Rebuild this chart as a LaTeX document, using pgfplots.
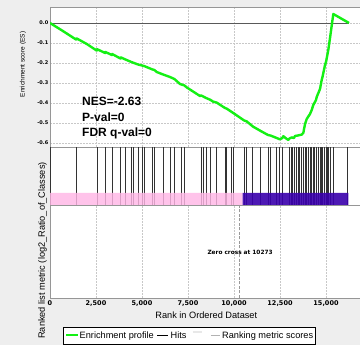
\documentclass[border=0pt]{standalone}
\usepackage{fontspec}
\setmainfont{Liberation Sans}
\newfontfamily\dvb{DejaVu Sans}
\usepackage{pgfplots}
\usepackage{pgfplotstable}
\pgfplotsset{compat=1.18}
\definecolor{bggray}{RGB}{238,238,238}
\definecolor{esgreen}{RGB}{20,240,20}
\definecolor{hitpink}{RGB}{255,182,230}
\definecolor{hitpurple}{RGB}{58,0,172}
\definecolor{gridgray}{RGB}{200,200,200}
\definecolor{framegray}{RGB}{150,150,150}

\pgfplotstableread{
rank es
0 0
700 -0.040
1420 -0.083
1445 -0.077
2000 -0.105
2540 -0.138
2560 -0.131
3000 -0.150
3010 -0.145
3365 -0.160
3375 -0.155
3840 -0.178
3850 -0.172
4090 -0.182
4420 -0.195
4800 -0.208
5110 -0.215
5560 -0.232
5670 -0.235
5800 -0.245
6160 -0.258
6520 -0.270
6760 -0.280
7065 -0.305
7160 -0.308
7300 -0.312
7430 -0.322
8152 -0.365
8210 -0.362
8480 -0.375
8712 -0.384
8860 -0.393
9060 -0.398
9510 -0.425
9600 -0.428
9960 -0.450
10544 -0.487
10690 -0.492
11033 -0.518
11451 -0.540
11848 -0.560
11995 -0.563
12321 -0.575
12500 -0.582
12625 -0.575
12680 -0.566
12800 -0.575
12951 -0.585
13006 -0.578
13136 -0.572
13261 -0.575
13315 -0.565
13495 -0.562
13680 -0.558
13766 -0.550
13860 -0.505
13951 -0.480
14131 -0.455
14223 -0.435
14310 -0.410
14457 -0.385
14495 -0.370
14674 -0.330
14766 -0.285
14821 -0.265
14946 -0.210
15000 -0.195
15125 -0.135
15256 -0.050
15300 -0.020
15397 0.045
16250 0.000
}\esdata

\pgfplotstableread{
rank h
38 58
1440 58
2554 58
3005 58
3370 58
3842 58
4092 58
4418 58
4511 58
4799 58
5016 58
5109 58
5560 58
5669 58
6158 58
6522 58
6756 58
7158 58
7299 58
8207 58
8332 58
8478 58
8712 58
9060 58
9511 58
9603 58
9837 58
9962 58
10544 58
10690 58
11017 58
11451 58
11848 58
11995 58
12321 58
12462 58
12625 58
12645 58
13006 58
13136 58
13200 58
13261 58
13408 58
13495 58
13560 58
13680 58
13780 58
13859 58
13951 58
14040 58
14131 58
14223 58
14310 58
14380 58
14457 58
14560 58
14674 58
14750 58
14821 58
14900 58
15000 58
15060 58
15125 58
15256 58
15397 58
16158 58
}\hitdata

\pgfplotsset{
  gseabase/.style={
    scale only axis, width=320pt, xmin=0, xmax=17391,
    scaled x ticks=false,
    axis background/.style={fill=white},
    axis line style={framegray, line width=0.6pt},
    tick style={draw=none},
    anchor=north west,
    major grid style={gridgray, dash pattern=on 1.5pt off 1.5pt, line width=0.5pt},
  }
}

\begin{document}
\begin{tikzpicture}
\useasboundingbox (0,0) rectangle (360pt,345pt);
\fill[bggray] (0,0) rectangle (360pt,345pt);

% ---------- enrichment score panel
\begin{axis}[gseabase, at={(50pt,338pt)}, height=140pt,
  ymin=-0.62, ymax=0.08,
  xtick={2500,5000,7500,10000,12500,15000}, xticklabels={},
  ytick={-0.6,-0.5,-0.4,-0.3,-0.2,-0.1,0},
  yticklabels={-0.6,-0.5,-0.4,-0.3,-0.2,-0.1,0.0},
  yticklabel style={font=\fontsize{5}{6}\selectfont\dvb\bfseries, inner sep=1.5pt},
  xmajorgrids, ymajorgrids]
\addplot[black!65, line width=0.7pt] coordinates {(0,0) (16250,0)};
\addplot[esgreen, line width=2.4pt, line join=round] table[x=rank, y=es] {\esdata};
\end{axis}

% ---------- hits panel
\begin{axis}[gseabase, at={(50pt,198pt)}, height=58pt,
  ymin=0, ymax=58, xtick=\empty, ytick=\empty]
\addplot[ycomb, black!80, line width=0.8pt, no markers] table[x=rank, y=h] {\hitdata};
\addplot[fill=hitpink, draw=none, fill opacity=0.82] coordinates {(0,0) (0,12) (10470,12) (10470,0)} \closedcycle;
\addplot[fill=hitpurple, draw=none, fill opacity=0.9] coordinates {(10470,0) (10470,12) (16210,12) (16210,0)} \closedcycle;
\end{axis}

% ---------- ranked list metric panel
\begin{axis}[gseabase, at={(50pt,140pt)}, height=93pt,
  ymin=0, ymax=1, ytick=\empty,
  xtick={0,2500,5000,7500,10000,12500,15000},
  xticklabels={0,{2,500},{5,000},{7,500},{10,000},{12,500},{15,000}},
  xticklabel style={font=\fontsize{6.5}{7.5}\selectfont\dvb\bfseries, inner sep=1.5pt, yshift=-1pt},
  xmajorgrids]
\addplot[gray!80, dash pattern=on 3pt off 1.5pt, line width=0.6pt] coordinates {(10273,0) (10273,1)};
\node[font=\fontsize{5.8}{7}\selectfont\dvb\bfseries] at (axis cs:10330,0.495) {Zero cross at 10273};
\end{axis}

% ---------- legend (drawn by hand)
\draw[black, line width=0.5pt, fill=white] (63pt,1pt) rectangle (315pt,18pt);
\draw[esgreen, line width=2pt] (66.5pt,9.5pt) -- (78pt,9.5pt);
\node[anchor=base west, inner sep=0pt, font=\fontsize{9.2}{10}\selectfont] at (79.5pt,6pt) {Enrichment profile};
\draw[black, line width=0.7pt] (157.5pt,9.5pt) -- (168pt,9.5pt);
\node[anchor=base west, inner sep=0pt, font=\fontsize{9.2}{10}\selectfont] at (170.5pt,6pt) {Hits};
\draw[gray!18, line width=1.5pt] (193pt,13pt) -- (202pt,13pt);
\draw[gray!60, line width=0.7pt] (211pt,9.5pt) -- (220pt,9.5pt);
\node[anchor=base west, inner sep=0pt, font=\fontsize{9.2}{10}\selectfont] at (222pt,6pt) {Ranking metric scores};

% ---------- texts
\node[rotate=90, font=\fontsize{6.5}{7.5}\selectfont] at (23pt,280.5pt) {Enrichment score (ES)};
\node[rotate=90, font=\fontsize{9.2}{10}\selectfont] at (42.5pt,94.5pt) {Ranked list metric (log2\_Ratio\_of\_Classes)};
\node[anchor=base, font=\fontsize{9.2}{10}\selectfont] at (206.3pt,26pt) {Rank in Ordered Dataset};
\node[anchor=base west, font=\fontsize{12}{14}\selectfont\bfseries, inner sep=0pt] at (82pt,239pt) {NES=-2.63};
\node[anchor=base west, font=\fontsize{12}{14}\selectfont\bfseries, inner sep=0pt] at (82pt,223.5pt) {P-val=0};
\node[anchor=base west, font=\fontsize{12}{14}\selectfont\bfseries, inner sep=0pt] at (82pt,208pt) {FDR q-val=0};
\end{tikzpicture}
\end{document}
